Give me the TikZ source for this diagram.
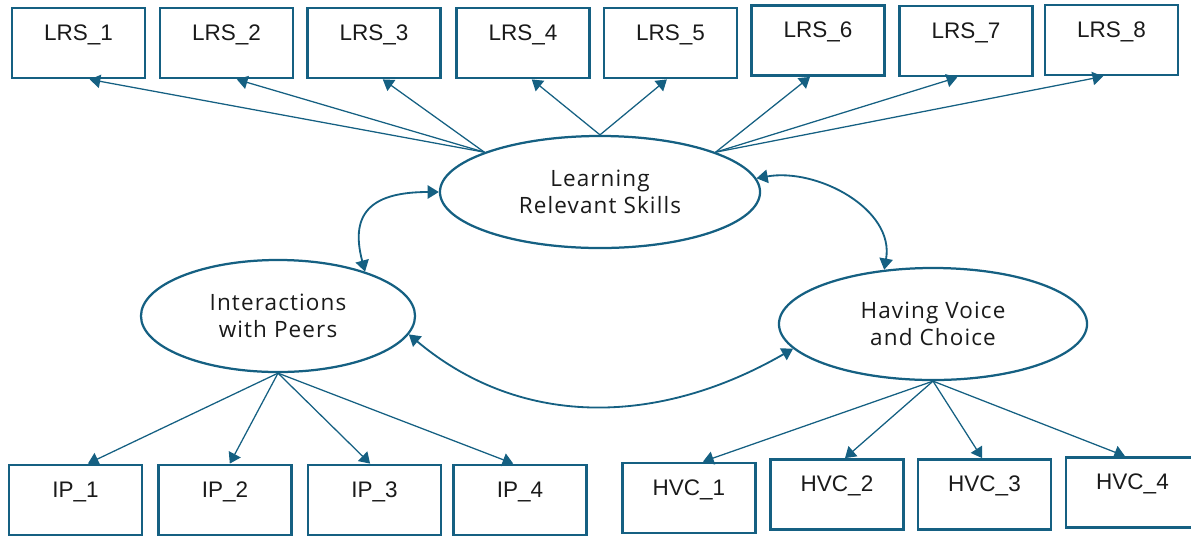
\documentclass[tikz,border=0pt]{standalone}
\usepackage{fontspec}
\setmainfont{Liberation Sans}
\newfontfamily\ovalfont[LetterSpace=5]{Open Sans}
\usepackage{tikz}
\usetikzlibrary{shapes.geometric, arrows.meta}

\definecolor{skill}{HTML}{156082}
\definecolor{ink}{HTML}{1A1A1A}

\tikzset{
    item/.style={draw=skill, line width=2pt, rectangle, minimum width=3.325cm,
        minimum height=1.75cm, inner sep=0pt, text height=0.8cm, text depth=0.95cm,
        text=ink, font=\fontsize{16}{19}\selectfont},
    factor/.style={draw=skill, line width=1.6pt, ellipse, minimum height=2.8cm,
        inner sep=0pt, align=center, text=ink, font=\ovalfont\fontsize{16}{19.2}\selectfont},
    load/.style={draw=skill, line width=0.9pt, -{Triangle[width=9.5pt,length=7.5pt]}},
    covar/.style={draw=skill, line width=1.3pt,
        {Triangle[width=9.5pt,length=8pt]}-{Triangle[width=9.5pt,length=8pt]}}
}

\begin{document}
\begin{tikzpicture}[x=0.025cm, y=-0.025cm]
    \useasboundingbox (0,0) rectangle (1191,535);

    % Latent factors
    \node[factor, minimum width=8cm] (lrs) at (600,192) {Learning\\Relevant Skills};
    \node[factor, minimum width=6.85cm] (ip) at (278,316) {Interactions\\with Peers};
    \node[factor, minimum width=7.7cm] (hvc) at (933,324) {Having Voice\\and Choice};

    % Indicators of learning relevant skills
    \node[item] (lrs1) at (78.5,43) {LRS\_1};
    \node[item] (lrs2) at (226.5,43) {LRS\_2};
    \node[item] (lrs3) at (374,43) {LRS\_3};
    \node[item] (lrs4) at (523,43) {LRS\_4};
    \node[item] (lrs5) at (670.5,43) {LRS\_5};
    \node[item] (lrs6) at (818,40.5) {LRS\_6};
    \node[item] (lrs7) at (966,41) {LRS\_7};
    \node[item] (lrs8) at (1111.5,40) {LRS\_8};

    % Indicators of peer interaction
    \node[item] (ip1) at (75.5,500) {IP\_1};
    \node[item] (ip2) at (225,500) {IP\_2};
    \node[item] (ip3) at (374.5,500) {IP\_3};
    \node[item] (ip4) at (520,500) {IP\_4};

    % Indicators of voice and choice
    \node[item] (hvc1) at (689,498) {HVC\_1};
    \node[item] (hvc2) at (837,494.5) {HVC\_2};
    \node[item] (hvc3) at (984.5,494.5) {HVC\_3};
    \node[item] (hvc4) at (1132.5,492.5) {HVC\_4};

    % Loadings
    \draw[load] (lrs.161) -- ([xshift=0.28cm]lrs1.south);
    \draw[load] (lrs.161) -- ([xshift=0.26cm]lrs2.south);
    \draw[load] (lrs.161) -- ([xshift=0.22cm]lrs3.south);
    \draw[load] (lrs.north) -- ([xshift=0.22cm]lrs4.south);
    \draw[load] (lrs.north) -- ([xshift=-0.09cm]lrs5.south);
    \draw[load] (lrs.19) -- ([xshift=-0.2cm]lrs6.south);
    \draw[load] (lrs.19) -- ([xshift=-0.22cm]lrs7.south);
    \draw[load] (lrs.19) -- ([xshift=-0.21cm]lrs8.south);

    \draw[load] (ip.south) -- ([xshift=0.31cm]ip1.north);
    \draw[load] (ip.south) -- ([xshift=0.12cm]ip2.north);
    \draw[load] (ip.south) -- ([xshift=-0.11cm]ip3.north);
    \draw[load] (ip.south) -- ([xshift=-0.17cm]ip4.north);

    \draw[load] (hvc.south) -- ([xshift=0.35cm]hvc1.north);
    \draw[load] (hvc.south) -- ([xshift=0.2cm]hvc2.north);
    \draw[load] (hvc.south) -- ([xshift=-0.06cm]hvc3.north);
    \draw[load] (hvc.south) -- ([xshift=-0.19cm]hvc4.north);

    % Correlations between factors
    \draw[covar] (lrs.west) to[out=180, in=105, looseness=1.5] (ip.27);
    \draw[covar] (lrs.5) to[out=10, in=80] (hvc.132);
    \draw[covar] (ip.-8) to[out=-40, in=210] (hvc.190);
\end{tikzpicture}
\end{document}
